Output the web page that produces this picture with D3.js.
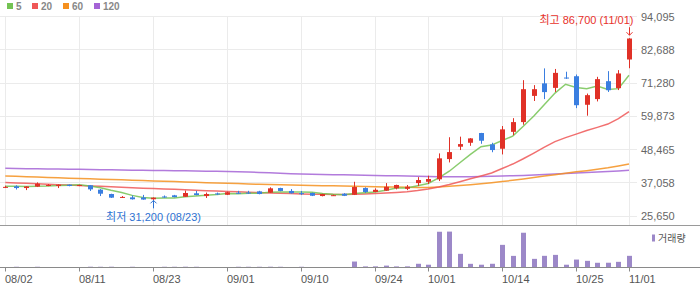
<!DOCTYPE html>
<html>
<head>
  <meta charset="utf-8">
  <title>daily chart</title>
  <script src="https://cdn.jsdelivr.net/npm/d3@7"></script>
  <style>
    body { margin: 0; background: #fff; }
    svg { display: block; font-family: "Liberation Sans", Arial, "Noto Sans CJK KR", sans-serif; }
  </style>
</head>
<body>
<div id="chart"></div>
<script>
// trading days shown on the chart
var dates = ["08/02","08/03","08/04","08/05","08/06","08/09","08/10","08/11","08/12","08/13",
  "08/17","08/18","08/19","08/20","08/23","08/24","08/25","08/26","08/27","08/30",
  "08/31","09/01","09/02","09/03","09/06","09/07","09/08","09/09","09/10","09/13",
  "09/14","09/15","09/16","09/17","09/23","09/24","09/27","09/28","09/29","09/30",
  "10/01","10/05","10/06","10/07","10/08","10/12","10/13","10/14","10/15","10/18",
  "10/19","10/20","10/21","10/22","10/25","10/26","10/27","10/28","10/29","11/01"];

var open = [35550,35850,35250,35750,36200,35950,36400,35950,36200,34700,
  33200,32100,32050,32000,31400,32350,32750,32250,33450,32500,
  33400,32950,33650,33700,34100,33650,35250,34250,33500,33550,
  32500,32700,33300,32950,35250,33900,34350,35150,35000,36950,
  37400,38250,45200,49450,50800,54150,50250,48750,54550,57900,
  66900,71200,69650,73200,73650,63850,65800,71950,69550,79400];
var high = [36050,36200,35900,37200,36600,36500,36500,36400,36300,34900,
  33300,32500,32700,32900,32050,32700,32900,34400,34300,33700,
  33700,34000,34300,34300,34300,35500,35350,34900,34250,33700,
  33300,33000,33500,37400,35500,35150,36950,36400,36300,39000,
  39500,47150,52700,52900,52400,54200,50800,56550,59250,72300,
  70600,76350,76150,75200,74250,67700,73450,75400,75750,86700];
var low = [35250,34750,34550,35600,35900,35250,35850,35900,34250,32500,
  31850,31850,31300,31250,31200,31900,32050,32200,32750,31850,
  32850,32850,33200,33200,33100,33550,34150,33350,32850,32500,
  32400,32600,32500,32850,33550,33800,34250,34800,34550,35950,
  36650,37650,44050,48300,49750,50450,47550,46800,53400,57000,
  65150,65800,68250,72750,62700,60100,65000,68250,68900,76400];
var close = [35650,35250,35800,36750,36300,36400,35950,36300,34800,33300,
  31950,32200,31400,31300,31950,32250,32150,33550,32850,33200,
  33300,33800,33300,33600,33200,35150,34250,33450,33450,32600,
  33200,32800,32600,35600,33900,34650,35700,36300,35700,38000,
  38350,45450,47600,50350,52300,51500,48300,55400,57900,69200,
  69200,68200,74800,73100,63700,67150,72650,68850,74600,86600];
var volume = [40000,150000,40000,150000,40000,40000,40000,40000,160000,150000,
  160000,40000,150000,40000,40000,150000,150000,160000,150000,40000,
  40000,40000,150000,150000,150000,160000,150000,40000,150000,40000,
  40000,40000,40000,1200000,220000,230000,380000,220000,230000,750000,
  560000,7200000,7230000,2750000,740000,560000,750000,4560000,2340000,7000000,
  1740000,2350000,2540000,560000,1600000,1340000,950000,960000,1140000,2350000];

// moving averages
var ma5 = [35900,35850,35800,35900,35950,36100,36240,36340,35950,35350,
  34460,33710,32730,32030,31760,31820,31810,32240,32550,32800,
  33010,33340,33290,33440,33440,33810,33900,33930,33900,33780,
  33390,33100,32930,33360,33620,33910,34490,35230,35250,36070,
  36810,38760,41020,43950,46810,49440,50010,51570,53080,56460,
  60000,63980,67860,70900,69800,69390,70280,69090,69390,73970];
var ma20 = [37140,37010,36870,36700,36560,36420,36290,36110,35980,35840,
  35670,35530,35390,35220,35090,34950,34810,34670,34500,34360,
  34230,34090,33950,33820,33680,33540,33440,33340,33230,33160,
  33100,33060,33060,33100,33200,33340,33510,33750,34020,34400,
  34910,35600,36460,37420,38410,39370,40400,41950,43490,45310,
  47270,49320,51210,52580,53780,54990,56080,57220,59100,61500];
var ma60 = [39370,39270,39130,39030,38890,38790,38650,38550,38410,38310,
  38170,38070,37930,37830,37690,37590,37490,37350,37250,37110,
  37010,36870,36770,36630,36560,36460,36390,36320,36220,36150,
  36080,36000,35920,35850,35780,35710,35640,35580,35520,35470,
  35430,35600,35840,36110,36420,36730,37080,37490,37900,38340,
  38860,39370,39820,40300,40820,41230,41670,42190,42810,43490];
var ma120 = [42020,41980,41910,41880,41810,41780,41710,41670,41600,41570,
  41500,41470,41400,41360,41300,41260,41190,41160,41090,41060,
  40990,40920,40820,40750,40610,40470,40340,40200,40060,39990,
  39920,39850,39790,39720,39650,39580,39510,39440,39370,39310,
  39240,39170,39130,39130,39170,39240,39310,39370,39480,39580,
  39720,39890,40060,40270,40440,40610,40780,40950,41120,41330];

var yTicks = [25650, 37058, 48465, 59873, 71280, 82688, 94095];
var xLabels = ["08/02","08/11","08/23","09/01","09/10","09/24","10/01","10/14","10/25","11/01"];

var maSeries = [
  {name: "5", values: ma5, color: "#74c353"},
  {name: "20", values: ma20, color: "#ef5757"},
  {name: "60", values: ma60, color: "#f5901f"},
  {name: "120", values: ma120, color: "#a564d6"}
];

var upColor = "#e03127", downColor = "#3a7ee0", volColor = "#9c88c8";
var crisp = function(v) { return Math.floor(v) + 0.5; };

var svg = d3.select("#chart").append("svg")
    .attr("width", 700)
    .attr("height", 289);

var x = d3.scalePoint().domain(dates).range([5.3, 629]);
var y = d3.scaleLinear().domain([25650, 94095]).range([216, 16.7]);
var yv = d3.scaleLinear().domain([0, 7250000]).range([267.5, 231.5]);

// grid
var grid = svg.append("g");
grid.selectAll(".hg").data(yTicks).enter().append("line")
    .attr("x1", 0).attr("x2", 637)
    .attr("y1", d => crisp(y(d))).attr("y2", d => crisp(y(d)))
    .attr("stroke", "#ebebeb");
grid.selectAll(".vg").data(xLabels).enter().append("line")
    .attr("x1", d => crisp(x(d))).attr("x2", d => crisp(x(d)))
    .attr("y1", crisp(y(94095))).attr("y2", 225)
    .attr("stroke", "#ebebeb");

svg.append("line").attr("x1", 0).attr("x2", 700).attr("y1", 225.5).attr("y2", 225.5)
    .attr("stroke", "#9a9a9a");

// legend
var legend = svg.append("g").selectAll("g").data(maSeries).enter().append("g")
    .attr("transform", (d, i) => "translate(" + [7, 32, 63, 94][i] + ",3)");
legend.append("rect").attr("width", 6).attr("height", 6).attr("fill", d => d.color);
legend.append("text").attr("x", 9).attr("y", 6.8)
    .attr("font-size", "10px").attr("font-weight", "bold").attr("fill", "#888")
    .text(d => d.name);

// moving average lines
var line = d3.line().x((d, i) => x(dates[i])).y(d => y(d));
svg.append("g").selectAll("path").data(maSeries.slice().reverse()).enter().append("path")
    .attr("d", d => line(d.values))
    .attr("fill", "none")
    .attr("stroke", d => d.color)
    .attr("stroke-width", 1.5)
    .attr("stroke-opacity", 0.85);

// candles
var candles = svg.append("g").selectAll("g").data(dates).enter().append("g");
candles.append("rect")
    .attr("x", d => Math.round(x(d)))
    .attr("width", 1)
    .attr("y", (d, i) => y(high[i]))
    .attr("height", (d, i) => y(low[i]) - y(high[i]))
    .attr("fill", (d, i) => close[i] >= open[i] ? upColor : downColor);
candles.append("rect")
    .attr("x", d => Math.round(x(d)) - 2)
    .attr("width", 5)
    .attr("y", (d, i) => y(Math.max(open[i], close[i])))
    .attr("height", (d, i) => Math.max(1, y(Math.min(open[i], close[i])) - y(Math.max(open[i], close[i]))))
    .attr("fill", (d, i) => close[i] >= open[i] ? upColor : downColor);

// volume
svg.append("g").selectAll("rect").data(dates).enter().append("rect")
    .attr("x", d => Math.round(x(d)) - 2)
    .attr("width", 5)
    .attr("y", (d, i) => yv(volume[i]))
    .attr("height", (d, i) => yv(0) - yv(volume[i]))
    .attr("fill", volColor);

svg.append("rect").attr("x", 652).attr("y", 234.5).attr("width", 3).attr("height", 7).attr("fill", volColor);
svg.append("text").attr("x", 658).attr("y", 242).attr("font-size", "10px").attr("fill", "#555").text("거래량");

// axes
var yAxis = svg.append("g").attr("transform", "translate(641,0)")
    .call(d3.axisRight(y).tickValues(yTicks).tickSize(0).tickPadding(0).tickFormat(d3.format(",")));
yAxis.select(".domain").remove();
yAxis.selectAll("text").attr("font-size", "11px").attr("fill", "#666").attr("font-family", null);

svg.append("line").attr("x1", 0).attr("x2", 700).attr("y1", 267.5).attr("y2", 267.5)
    .attr("stroke", "#8a8a8a");
var xAxis = svg.append("g").attr("transform", "translate(0,267.5)")
    .call(d3.axisBottom(x).tickValues(xLabels).tickSize(4).tickPadding(3.5));
xAxis.select(".domain").remove();
xAxis.selectAll(".tick").attr("transform", d => "translate(" + crisp(x(d)) + ",0)");
xAxis.selectAll("line").attr("stroke", "#8a8a8a");
xAxis.selectAll("text").attr("font-size", "11px").attr("fill", "#555")
    .attr("text-anchor", "start").attr("x", -0.5).attr("font-family", null);

// high / low markers
var fmt = d3.format(",");
var hi = d3.maxIndex(high), lo = d3.minIndex(low);
var hx = Math.round(x(dates[hi])) + 0.5, hy = y(high[hi]);
svg.append("text").attr("x", hx + 4).attr("y", hy - 14)
    .attr("text-anchor", "end").attr("font-size", "11px").attr("fill", "#e8322b")
    .text("최고 " + fmt(high[hi]) + " (" + dates[hi] + ")");
svg.append("path")
    .attr("d", "M" + hx + "," + (hy - 11) + "V" + (hy - 3) + "M" + (hx - 3) + "," + (hy - 6) + "L" + hx + "," + (hy - 3) + "L" + (hx + 3) + "," + (hy - 6))
    .attr("fill", "none").attr("stroke", "#e8322b");

var lx = Math.round(x(dates[lo])) + 0.5, ly = y(low[lo]);
svg.append("text").attr("x", lx).attr("y", ly + 21.5)
    .attr("text-anchor", "middle").attr("font-size", "11px").attr("fill", "#2e72d2")
    .text("최저 " + fmt(low[lo]) + " (" + dates[lo] + ")");
svg.append("path")
    .attr("d", "M" + lx + "," + (ly + 8.5) + "V" + (ly + 0.5) + "M" + (lx - 3) + "," + (ly + 3.5) + "L" + lx + "," + (ly + 0.5) + "L" + (lx + 3) + "," + (ly + 3.5))
    .attr("fill", "none").attr("stroke", "#2e72d2");
</script>
</body>
</html>
